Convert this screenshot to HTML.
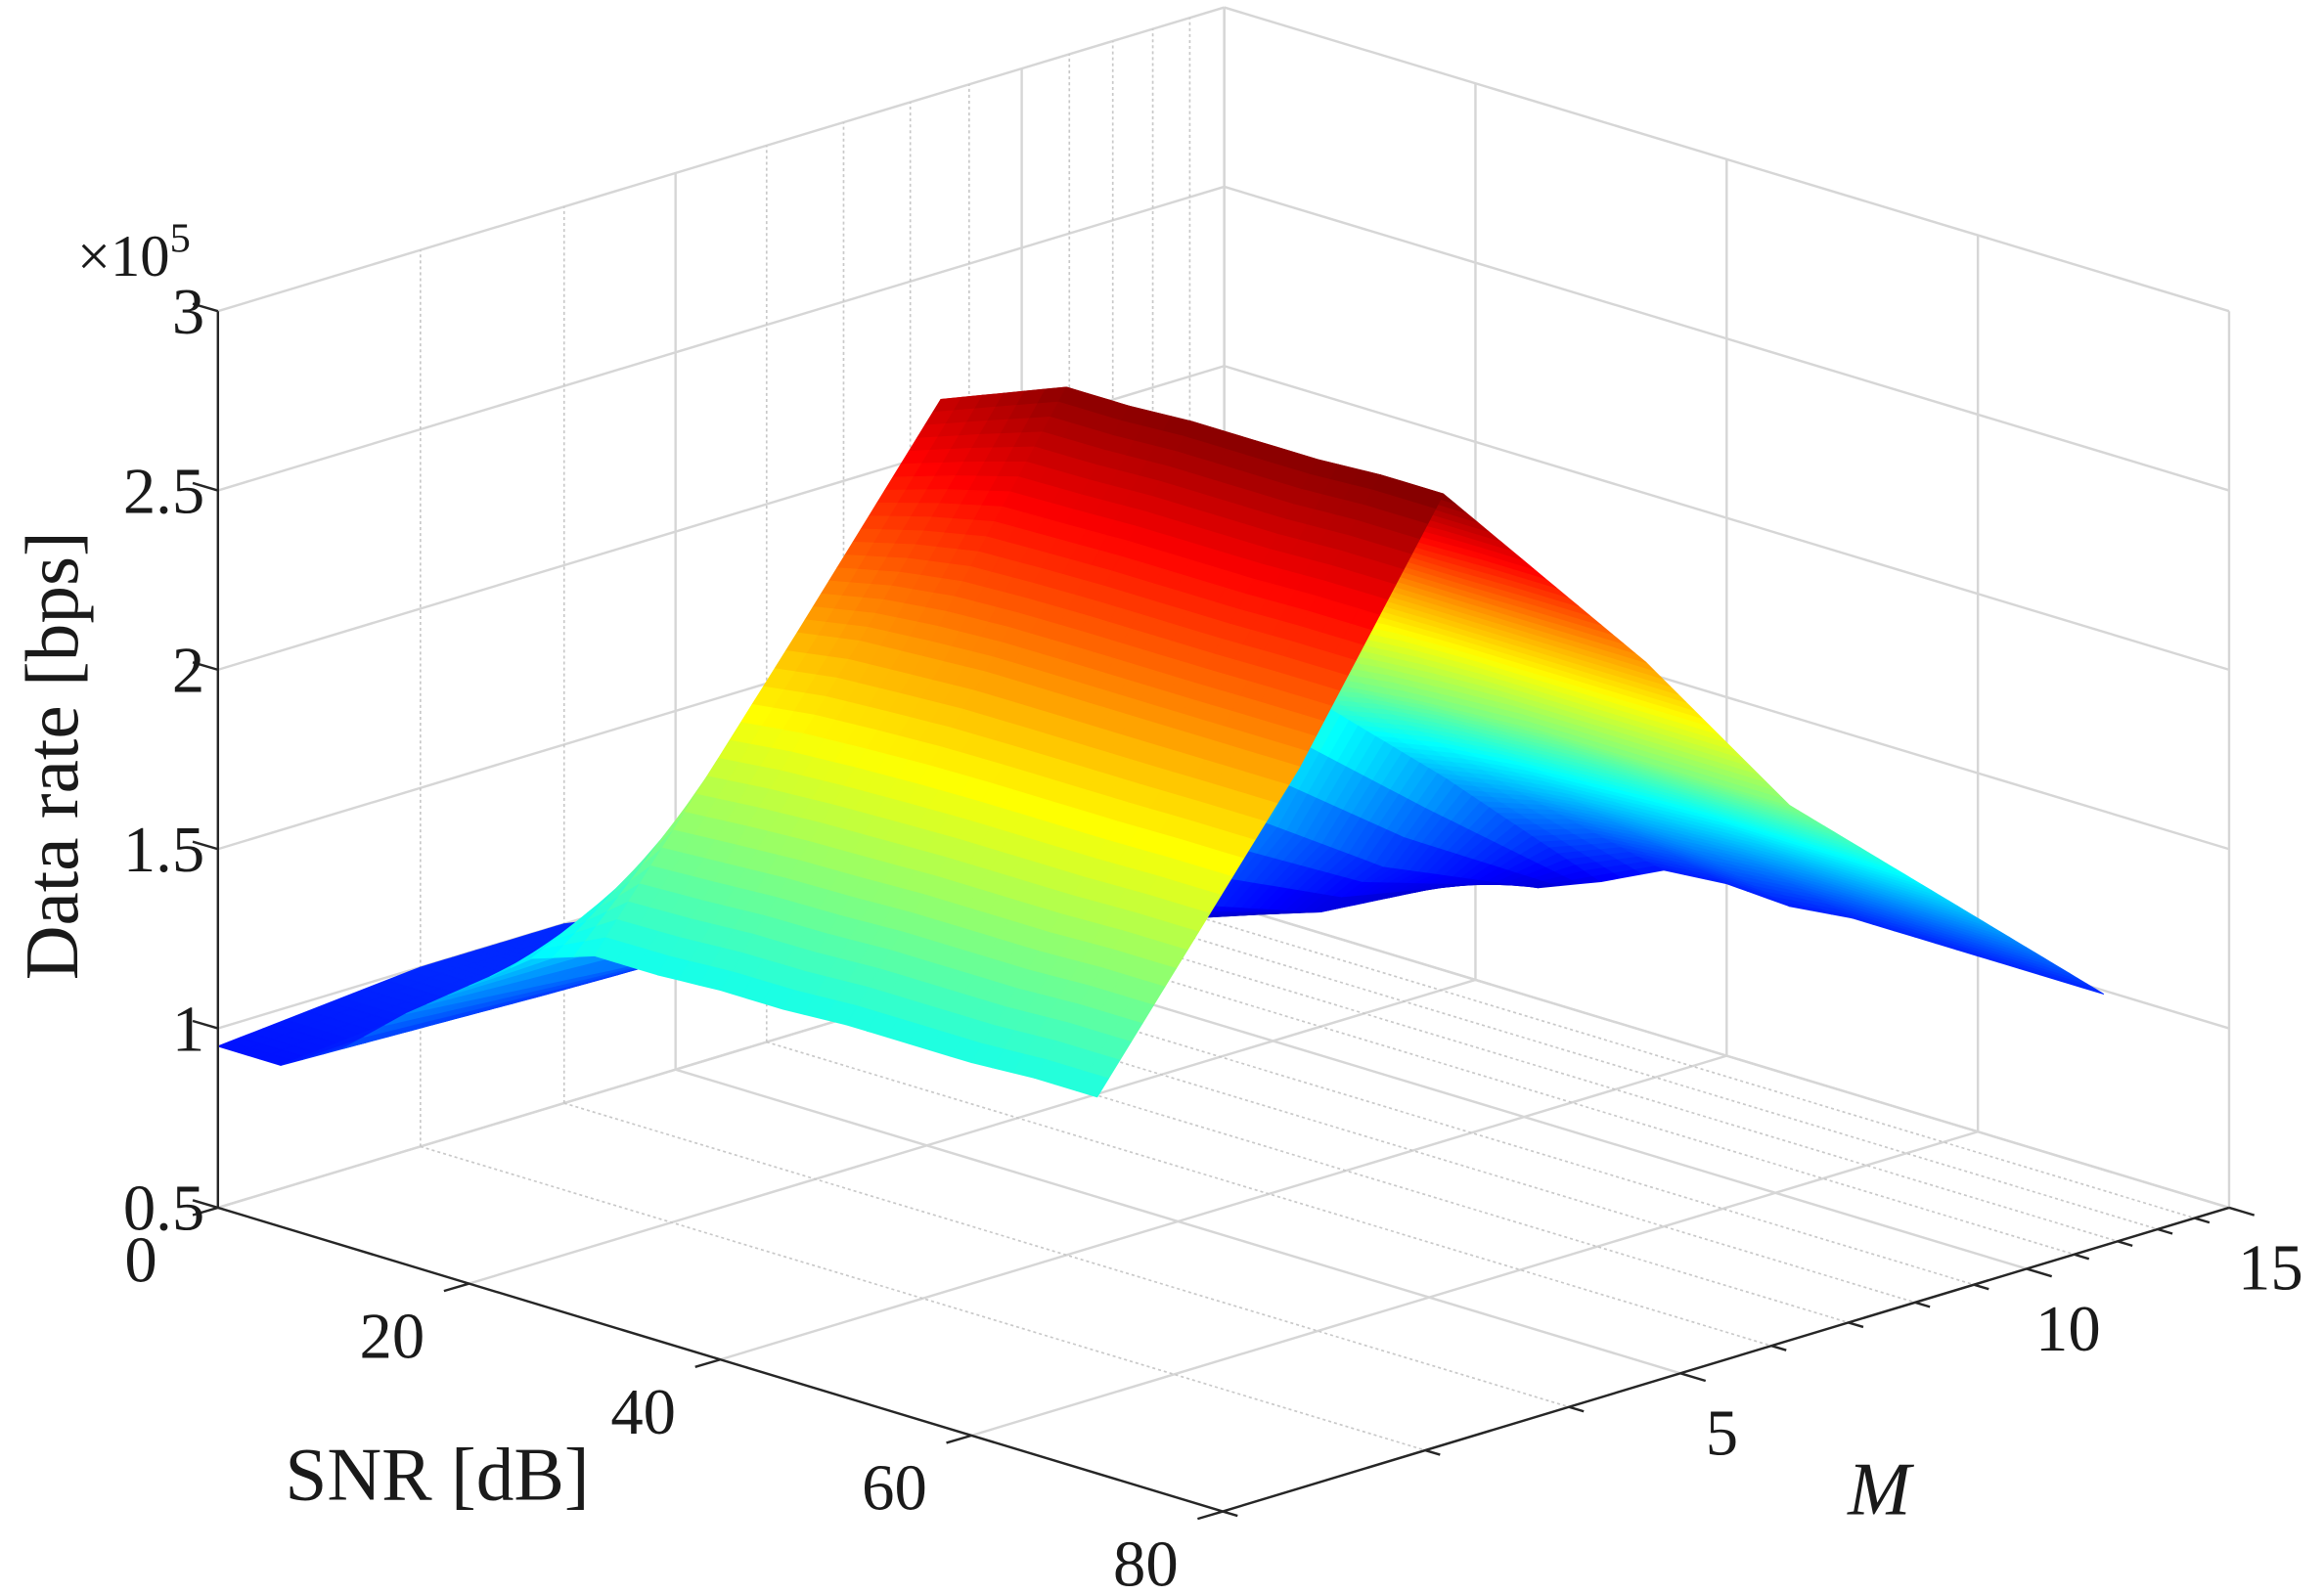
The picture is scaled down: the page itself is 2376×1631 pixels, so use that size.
<!DOCTYPE html>
<html><head><meta charset="utf-8"><style>
html,body{margin:0;padding:0;background:#fff;}
svg{display:block;font-family:"Liberation Serif","DejaVu Serif",serif;}
</style></head><body>
<svg id="chart" width="2376" height="1631" viewBox="0 0 1568 1076.4" xmlns="http://www.w3.org/2000/svg">
<rect width="1568" height="1076.4" fill="#fff"/>
<g id="grid"></g>
<g id="surf"></g>
<g id="axes"></g>
<g id="labels" fill="#1a1a1a">
<text x="52" y="186" font-size="40">×10<tspan font-size="28" dy="-16">5</tspan></text>
<text x="295" y="1012" font-size="51" text-anchor="middle">SNR [dB]</text>
<text x="1268" y="1022" font-size="51" font-style="italic" text-anchor="middle">M</text>
<text transform="translate(52,510) rotate(-90)" font-size="51" text-anchor="middle">Data rate [bps]</text>
</g>
</svg>
<script>
const SNR=[0,5,10,15,20,25,30,35,40,45,50,55,60,65,70];
const M=[2,3,4,6,8,11,15];
const rateM2 =[0.95,0.95,1.05,1.20,1.33,1.46,1.52,1.52,1.53,1.53,1.54,1.54,1.54,1.55,1.55];
const rateM3 =[1.00,1.00,1.03,1.15,1.35,1.75,2.25,2.28,2.29,2.30,2.30,2.30,2.30,2.30,2.30];
const rateM4 =[1.00,1.00,1.02,1.12,1.40,2.00,2.78,2.85,2.92,2.92,2.93,2.93,2.93,2.94,2.94];
const rateM6 =[0.90,0.90,0.92,0.98,1.15,1.60,2.20,2.25,2.28,2.30,2.30,2.30,2.30,2.30,2.30];
const rateM8 =[0.80,0.80,0.82,0.87,0.98,1.30,1.70,1.74,1.76,1.77,1.78,1.78,1.78,1.78,1.78];
const rateM11=[0.70,0.70,0.72,0.76,0.82,1.00,1.30,1.33,1.35,1.36,1.37,1.38,1.38,1.38,1.38];
const rateM15=[0.62,0.63,0.655,0.77,0.78,0.81,0.88,0.965,0.98,0.97,0.99,0.99,0.99,0.99,0.99];
const zTicks=[0.5,1,1.5,2,2.5,3];
const zTickLabels=["0.5","1","1.5","2","2.5","3"];
const snrTicks=[0,20,40,60,80];
const mMajor=[5,10,15];
const mMinor=[2,3,4,6,7,8,9,11,12,13,14];

const Z=[rateM2,rateM3,rateM4,rateM6,rateM8,rateM11,rateM15];
const NS="http://www.w3.org/2000/svg";
const SMAX=80, MMIN=2, MMAX=15, ZMIN=0.5, ZMAX=3;
function uS(s){return s/SMAX;}
function vM(m){return Math.log(m/MMIN)/Math.log(MMAX/MMIN);}
function wZ(z){return (z-ZMIN)/(ZMAX-ZMIN);}
function PX(u,v,w){return 147+678*u+679*v;}
function PY(u,v,w){return 815+205*u-205*v-605*w;}
function el(tag,attrs,parent){const e=document.createElementNS(NS,tag);for(const k in attrs)e.setAttribute(k,attrs[k]);parent.appendChild(e);return e;}
function line(p,u1,v1,w1,u2,v2,w2,stroke,sw,dash){
  const l=el('line',{x1:PX(u1,v1,w1),y1:PY(u1,v1,w1),x2:PX(u2,v2,w2),y2:PY(u2,v2,w2),stroke:stroke,'stroke-width':sw},p);
  if(dash)l.setAttribute('stroke-dasharray',dash);
  return l;
}
const grid=document.getElementById('grid');
const GC='#d6d6d6', GM='#c8c8c8';
zTicks.forEach(z=>{
  const w=wZ(z);
  const a=line(grid,0,0,w,0,1,w,GC,1.6);
  
  
  const b=line(grid,0,1,w,1,1,w,GC,1.6);
  
  
});
snrTicks.forEach(s=>{
  const u=uS(s);
  const a=line(grid,u,1,0,u,1,1,GC,1.6);
  
  
  const b=line(grid,u,0,0,u,1,0,GC,1.6);
  
  
});
mMajor.concat(mMinor).forEach(m=>{
  const v=vM(m), major=mMajor.indexOf(m)>=0;
  const a=line(grid,0,v,0,0,v,1,major?GC:GM,major?1.6:1.1,major?null:'2,2');
  
  
  const b=line(grid,0,v,0,1,v,0,major?GC:GM,major?1.6:1.1,major?null:'2,2');
  
  
});

function jet(t){t=Math.max(0,Math.min(1,t));
  const c=x=>Math.round(255*Math.max(0,Math.min(1,1.5-Math.abs(x))));
  return 'rgb('+c(4*t-3)+','+c(4*t-2)+','+c(4*t-1)+')';}
let zmin=Infinity,zmax=-Infinity;Z.forEach(r=>r.forEach(z=>{zmin=Math.min(zmin,z);zmax=Math.max(zmax,z);}));
const surf=document.getElementById('surf');
const SUBM=18, SUBS=3, polys=[];
function samp(i,j,a,b){
  const u0=uS(SNR[j]),u1=uS(SNR[j+1]),v0=vM(M[i]),v1=vM(M[i+1]);
  const z=(1-a)*(1-b)*Z[i][j]+(1-a)*b*Z[i][j+1]+a*(1-b)*Z[i+1][j]+a*b*Z[i+1][j+1];
  return {u:u0+(u1-u0)*b,v:v0+(v1-v0)*a,z:z};
}
for(let i=0;i<M.length-1;i++)for(let j=0;j<SNR.length-1;j++){
  for(let p=0;p<SUBM;p++)for(let q=0;q<SUBS;q++){
    const pts=[samp(i,j,p/SUBM,q/SUBS),samp(i,j,p/SUBM,(q+1)/SUBS),samp(i,j,(p+1)/SUBM,(q+1)/SUBS),samp(i,j,(p+1)/SUBM,q/SUBS)];
    let zc=0,d=0;pts.forEach(o=>{zc+=o.z/4;d+=(o.u-o.v+0.15*wZ(o.z))/4;});
    polys.push({pts,zc,d});
  }
}
polys.sort((a,b)=>a.d-b.d);
polys.forEach(P=>{
  const col=jet((P.zc-zmin)/(zmax-zmin));
  const pt=P.pts.map(o=>{const w=wZ(o.z);return PX(o.u,o.v,w).toFixed(2)+','+PY(o.u,o.v,w).toFixed(2);}).join(' ');
  const g=el('polygon',{points:pt,fill:col,stroke:col,'stroke-width':0.7,'stroke-linejoin':'round'},surf);
  
  
});

const axes=document.getElementById('axes');
const AC='#262626';
let a1=line(axes,0,0,0,0,0,1,AC,1.6);


let a2=line(axes,0,0,0,1,0,0,AC,1.6);


let a3=line(axes,1,0,0,1,1,0,AC,1.6);


const labels=document.getElementById('labels');
zTicks.forEach((z,k)=>{
  const w=wZ(z),x=PX(0,0,w),y=PY(0,0,w);
  const t=el('line',{x1:x,y1:y,x2:x-17,y2:y-5,stroke:AC,'stroke-width':1.6},axes);
  
  
  const tx=el('text',{x:x-9,y:y+15,'font-size':44,'text-anchor':'end'},labels);
  tx.textContent=zTickLabels[k];
  
  
});
snrTicks.forEach(s=>{
  const u=uS(s),x=PX(u,0,0),y=PY(u,0,0);
  const t=el('line',{x1:x,y1:y,x2:x-17,y2:y+5,stroke:AC,'stroke-width':1.6},axes);
  
  
  const tx=el('text',{x:x-52,y:y+50,'font-size':44,'text-anchor':'middle'},labels);
  tx.textContent=String(s);
  
  
});
mMajor.concat(mMinor).forEach(m=>{
  const v=vM(m),x=PX(1,v,0),y=PY(1,v,0),major=mMajor.indexOf(m)>=0;
  const L=major?17:10;
  const t=el('line',{x1:x,y1:y,x2:x+L,y2:y+L*0.3,stroke:AC,'stroke-width':1.6},axes);
  
  
  if(major){
    const tx=el('text',{x:x+28,y:y+55,'font-size':44,'text-anchor':'middle'},labels);
    tx.textContent=String(m);
    
    
  }
});
</script>
</body></html>
